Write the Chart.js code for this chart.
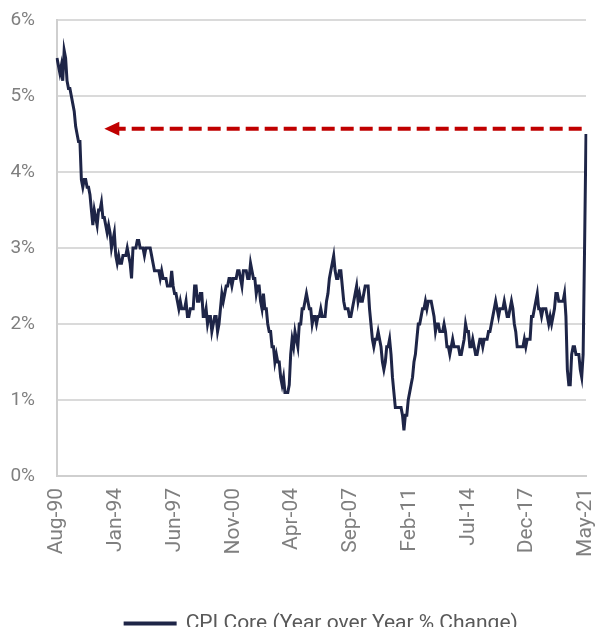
<!DOCTYPE html>
<html>
<head>
  <title>CPI Core</title>
  <script src="https://cdn.jsdelivr.net/npm/chart.js"></script>
  <style>
    html, body { margin: 0; padding: 0; overflow: hidden; background: #fff; }
    #wrap { width: 600px; height: 627px; overflow: hidden; }
  </style>
</head>
<body>
  <div id="wrap"><canvas id="chart" width="600" height="644"></canvas></div>

  <script>
    // Core CPI, year over year % change, monthly from Aug-90
    const startYear = 1990;
    const startMonth = 7; // Aug
    const coreCpi = [
      5.5, 5.4, 5.3, 5.4, 5.2,                                   // 1990 (Aug-Dec)
      5.6, 5.5, 5.2, 5.1, 5.1, 5.0, 4.9, 4.8, 4.6, 4.5, 4.4, 4.4, // 1991
      3.9, 3.8, 3.9, 3.9, 3.8, 3.8, 3.7, 3.5, 3.3, 3.5, 3.4, 3.3, // 1992
      3.5, 3.5, 3.6, 3.4, 3.4, 3.3, 3.2, 3.3, 3.2, 3.0, 3.1, 3.2, // 1993
      2.9, 2.8, 2.9, 2.8, 2.8, 2.9, 2.9, 2.9, 3.0, 2.9, 2.8, 2.6, // 1994
      3.0, 3.0, 3.0, 3.1, 3.1, 3.0, 3.0, 3.0, 2.9, 3.0, 3.0, 3.0, // 1995
      3.0, 2.9, 2.8, 2.7, 2.7, 2.7, 2.7, 2.6, 2.7, 2.6, 2.6, 2.6, // 1996
      2.5, 2.5, 2.5, 2.7, 2.5, 2.4, 2.4, 2.3, 2.2, 2.3, 2.2, 2.2, // 1997
      2.2, 2.3, 2.1, 2.1, 2.2, 2.2, 2.2, 2.5, 2.5, 2.3, 2.3, 2.4, // 1998
      2.4, 2.1, 2.1, 2.2, 2.0, 2.1, 2.1, 1.9, 2.0, 2.1, 2.1, 1.9, // 1999
      2.0, 2.2, 2.4, 2.3, 2.4, 2.5, 2.5, 2.6, 2.6, 2.5, 2.6, 2.6, // 2000
      2.6, 2.7, 2.7, 2.6, 2.5, 2.7, 2.7, 2.7, 2.6, 2.6, 2.8, 2.7, // 2001
      2.6, 2.6, 2.4, 2.5, 2.5, 2.3, 2.2, 2.4, 2.2, 2.2, 2.0, 1.9, // 2002
      1.9, 1.7, 1.7, 1.5, 1.6, 1.5, 1.5, 1.3, 1.2, 1.3, 1.1, 1.1, // 2003
      1.1, 1.2, 1.6, 1.8, 1.7, 1.9, 1.8, 1.7, 2.0, 2.0, 2.2, 2.2, // 2004
      2.3, 2.4, 2.3, 2.2, 2.2, 2.0, 2.1, 2.1, 2.0, 2.1, 2.1, 2.2, // 2005
      2.1, 2.1, 2.1, 2.3, 2.4, 2.6, 2.7, 2.8, 2.9, 2.7, 2.6, 2.6, // 2006
      2.7, 2.7, 2.5, 2.3, 2.2, 2.2, 2.2, 2.1, 2.1, 2.2, 2.3, 2.4, // 2007
      2.5, 2.3, 2.4, 2.3, 2.3, 2.4, 2.5, 2.5, 2.5, 2.2, 2.0, 1.8, // 2008
      1.7, 1.8, 1.8, 1.9, 1.8, 1.7, 1.5, 1.4, 1.5, 1.7, 1.7, 1.8, // 2009
      1.6, 1.3, 1.1, 0.9, 0.9, 0.9, 0.9, 0.9, 0.8, 0.6, 0.8, 0.8, // 2010
      1.0, 1.1, 1.2, 1.3, 1.5, 1.6, 1.8, 2.0, 2.0, 2.1, 2.2, 2.2, // 2011
      2.3, 2.2, 2.3, 2.3, 2.3, 2.2, 2.1, 1.9, 2.0, 2.0, 1.9, 1.9, // 2012
      1.9, 2.0, 1.9, 1.7, 1.7, 1.6, 1.7, 1.8, 1.7, 1.7, 1.7, 1.7, // 2013
      1.6, 1.6, 1.7, 1.8, 2.0, 1.9, 1.9, 1.7, 1.7, 1.8, 1.7, 1.6, // 2014
      1.6, 1.7, 1.8, 1.8, 1.7, 1.8, 1.8, 1.8, 1.9, 1.9, 2.0, 2.1, // 2015
      2.2, 2.3, 2.2, 2.1, 2.2, 2.2, 2.2, 2.3, 2.2, 2.1, 2.1, 2.2, // 2016
      2.3, 2.2, 2.0, 1.9, 1.7, 1.7, 1.7, 1.7, 1.7, 1.8, 1.7, 1.8, // 2017
      1.8, 1.8, 2.1, 2.1, 2.2, 2.3, 2.4, 2.2, 2.2, 2.1, 2.2, 2.2, // 2018
      2.2, 2.1, 2.0, 2.1, 2.0, 2.1, 2.2, 2.4, 2.4, 2.3, 2.3, 2.3, // 2019
      2.3, 2.4, 2.1, 1.4, 1.2, 1.2, 1.6, 1.7, 1.7, 1.6, 1.6, 1.6, // 2020
      1.4, 1.3, 1.6, 3.0, 4.5                                    // 2021 (Jan-May)
    ];

    const monthNames = ['Jan','Feb','Mar','Apr','May','Jun','Jul','Aug','Sep','Oct','Nov','Dec'];
    const tickLabels = ['Aug-90','Jan-94','Jun-97','Nov-00','Apr-04','Sep-07','Feb-11','Jul-14','Dec-17','May-21'];
    const yTicks = [0, 1, 2, 3, 4, 5, 6];

    // red arrow pointing back from today's reading
    const arrowLevel = 4.57;
    const arrowFrom = 'Feb-21';
    const arrowTo = 'May-93';

    const labels = coreCpi.map((_, i) => {
      const m = startMonth + i;
      const yr = startYear + Math.floor(m / 12);
      return monthNames[m % 12] + '-' + String(yr).slice(2);
    });

    const GRAY = '#7f7f7f';
    const NAVY = '#1e2547';
    const RED = '#c00000';

    const arrowPlugin = {
      id: 'backArrow',
      afterDatasetsDraw(chart) {
        const { ctx, scales: { x, y } } = chart;
        const yy = y.getPixelForValue(arrowLevel);
        const tail = x.getPixelForValue(labels.indexOf(arrowFrom));
        const tip = x.getPixelForValue(labels.indexOf(arrowTo));
        const headLen = 15, headHalf = 7;
        ctx.save();
        ctx.strokeStyle = RED;
        ctx.fillStyle = RED;
        ctx.lineWidth = 4;
        ctx.setLineDash([13, 6]);
        ctx.beginPath();
        ctx.moveTo(tail, yy);
        ctx.lineTo(tip + headLen - 1, yy);
        ctx.stroke();
        ctx.setLineDash([]);
        ctx.beginPath();
        ctx.moveTo(tip, yy);
        ctx.lineTo(tip + headLen, yy - headHalf);
        ctx.lineTo(tip + headLen, yy + headHalf);
        ctx.closePath();
        ctx.fill();
        ctx.restore();
      }
    };

    new Chart(document.getElementById('chart'), {
      type: 'line',
      data: {
        labels: labels,
        datasets: [{
          label: 'CPI Core (Year over Year % Change)',
          data: coreCpi,
          borderColor: NAVY,
          backgroundColor: NAVY,
          borderWidth: 3,
          pointRadius: 0,
          tension: 0
        }]
      },
      options: {
        responsive: false,
        animation: false,
        devicePixelRatio: 1,
        layout: { padding: { top: 20, right: 14, left: 0, bottom: 0 } },
        plugins: {
          tooltip: { enabled: false },
          legend: {
            position: 'bottom',
            fullSize: false,
            labels: {
              color: '#595959',
              font: { family: 'Roboto', size: 21 },
              boxWidth: 50,
              boxHeight: 1,
              padding: 10
            }
          }
        },
        scales: {
          x: {
            offset: false,
            grid: { display: false, drawTicks: false },
            border: { color: '#cfcfcf', width: 2 },
            afterFit(scale) {
              scale.height = 127;
              scale.paddingLeft = 0;
              scale.paddingRight = 0;
            },
            ticks: {
              autoSkip: false,
              maxRotation: 90,
              minRotation: 90,
              padding: 12,
              color: GRAY,
              font: { family: 'Roboto', size: 21 },
              callback(value) {
                const lab = this.getLabelForValue(value);
                return tickLabels.includes(lab) ? lab : '';
              }
            }
          },
          y: {
            min: 0,
            max: 6,
            afterFit(scale) {
              scale.width = 57;
              scale.paddingTop = 0;
              scale.paddingBottom = 0;
            },
            afterBuildTicks(scale) { scale.ticks = yTicks.map(v => ({ value: v })); },
            grid: { color: '#dadada', lineWidth: 2, drawTicks: false },
            border: { color: '#cfcfcf', width: 2 },
            ticks: {
              padding: 22,
              color: GRAY,
              font: { family: 'Roboto', size: 19 },
              callback: v => v + '%'
            }
          }
        }
      },
      plugins: [arrowPlugin]
    });
  </script>
</body>
</html>
